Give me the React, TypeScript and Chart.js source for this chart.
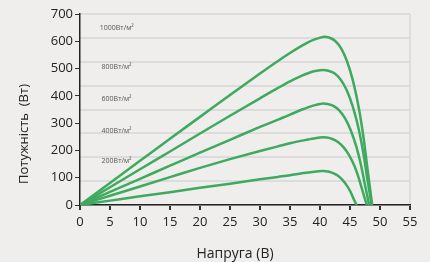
import React, { useEffect, useRef } from "react";
import { Chart, registerables } from "chart.js";

Chart.register(...registerables);

const xTicks = [0, 5, 10, 15, 20, 25, 30, 35, 40, 45, 50, 55];
const yTicks = [0, 100, 200, 300, 400, 500, 600, 700];
const gridDivisions = 8;

const v1000 = [0, 5, 10, 15, 20, 25, 30, 33, 35, 37, 38, 39, 40, 40.7, 41.5, 42.5, 43.5, 44.5, 45.5, 46.5, 47.3, 47.9, 48.4, 48.7];
const p1000 = [0, 81, 162, 243, 323, 403, 482, 528, 557, 584, 596, 606, 613, 617, 614, 602, 575, 527, 455, 352, 240, 135, 50, 0];

const v800 = [0, 5, 10, 15, 20, 25, 30, 33, 35, 37, 38, 39, 40, 40.6, 41.4, 42.4, 43.4, 44.4, 45.4, 46.4, 47.2, 47.8, 48.3, 48.6];
const p800 = [0, 65, 131, 196, 262, 327, 391, 429, 453, 474, 483, 490, 494, 495, 492, 483, 461, 423, 365, 283, 193, 108, 40, 0];

const v600 = [0, 5, 10, 15, 20, 25, 30, 33, 35, 37, 38, 39, 40, 40.5, 41.27, 42.23, 43.2, 44.16, 45.12, 46.08, 46.85, 47.43, 47.91, 48.2];
const p600 = [0, 48, 96, 144, 192, 239, 286, 313, 331, 350, 358, 365, 370, 372, 370, 363, 347, 318, 274, 212, 145, 81, 30, 0];

const v400 = [0, 5, 10, 15, 20, 25, 30, 33, 35, 37, 38, 39, 40, 40.4, 41.14, 42.06, 42.99, 43.91, 44.84, 45.76, 46.5, 47.06, 47.52, 47.8];
const p400 = [0, 34, 68, 102, 136, 168, 198, 215, 226, 236, 240, 244, 247, 248, 247, 242, 231, 212, 183, 142, 96, 54, 20, 0];

const v200 = [0, 5, 10, 15, 20, 25, 30, 33, 35, 37, 38, 39, 40.2, 40.79, 41.53, 42.26, 43.0, 43.74, 44.48, 45.07, 45.51, 45.88, 46.1];
const p200 = [0, 16, 32, 47, 63, 78, 94, 103, 109, 116, 119, 122, 125, 124, 122, 116, 107, 92, 71, 49, 27, 10, 0];

const curveLabels = ["1000Вт/м²", "800Вт/м²", "600Вт/м²", "400Вт/м²", "200Вт/м²"];
const labelV = [3.3, 3.6, 3.6, 3.6, 3.6];
const labelP = [647, 505, 390, 270, 160];

const xTitle = "Напруга (В)";
const yTitle = "Потужність  (Вт)";

const GREEN = "#3daa5e";
const FONT = "'Open Sans', 'Noto Sans', sans-serif";

function pts(v: number[], p: number[]) {
  return v.map((x, i) => ({ x, y: p[i] }));
}

export default function App() {
  const ref = useRef<HTMLCanvasElement>(null);

  useEffect(() => {
    document.body.style.margin = "0";
    const canvas = ref.current!;
    const bgPlugin = {
      id: "bg",
      beforeDraw(chart: any) {
        const { ctx } = chart;
        ctx.save();
        ctx.fillStyle = "#efeeed";
        ctx.fillRect(0, 0, chart.width, chart.height);
        ctx.restore();
      },
    };
    const textPlugin = {
      id: "texts",
      afterDatasetsDraw(chart: any) {
        const { ctx, scales, chartArea } = chart;
        ctx.save();
        ctx.font = `7px ${FONT}`;
        ctx.fillStyle = "#555";
        ctx.textBaseline = "middle";
        ctx.textAlign = "left";
        curveLabels.forEach((t, i) => {
          ctx.fillText(t, scales.x.getPixelForValue(labelV[i]), scales.y.getPixelForValue(labelP[i]));
        });
        ctx.fillStyle = "#222";
        ctx.textAlign = "center";
        ctx.font = `14px ${FONT}`;
        ctx.fillText(xTitle, chartArea.left + 155, chart.height - 8);
        ctx.translate(24, chartArea.top + 120);
        ctx.rotate(-Math.PI / 2);
        ctx.font = `13px ${FONT}`;
        ctx.fillText(yTitle, 0, 0);
        ctx.restore();
      },
    };
    const mk = (v: number[], p: number[]) => ({
      data: pts(v, p),
      yAxisID: "y",
      xAxisID: "x",
      borderColor: GREEN,
      borderWidth: 2.5,
      pointRadius: 0,
      fill: false,
      cubicInterpolationMode: "monotone" as const,
    });
    const chart = new Chart(canvas, {
      type: "line",
      data: {
        datasets: [mk(v1000, p1000), mk(v800, p800), mk(v600, p600), mk(v400, p400), mk(v200, p200)],
      },
      options: {
        animation: false,
        responsive: false,
        layout: { padding: { top: 14, right: 20, left: 0, bottom: 0 } },
        plugins: { legend: { display: false }, tooltip: { enabled: false } },
        scales: {
          x: {
            type: "linear",
            min: 0,
            max: 55,
            afterBuildTicks(scale: any) {
              scale.ticks = xTicks.map((value) => ({ value }));
            },
            afterFit(scale: any) {
              scale.height = 57;
            },
            grid: {
              drawOnChartArea: true,
              color: (c: any) => (c.tick && c.tick.value === 55 ? "#dcdcdc" : "rgba(0,0,0,0)"),
              lineWidth: 2,
              tickColor: "#333",
              tickLength: 5,
            },
            border: { color: "#222", width: 1.5 },
            ticks: { color: "#222", font: { family: FONT, size: 13 }, padding: 4, maxRotation: 0 },
          },
          y: {
            type: "linear",
            position: "left",
            min: 0,
            max: 700,
            afterBuildTicks(scale: any) {
              scale.ticks = yTicks.map((value) => ({ value }));
            },
            afterFit(scale: any) {
              scale.width = 80;
            },
            grid: {
              drawOnChartArea: false,
              tickColor: "#333",
              tickLength: 5,
            },
            border: { color: "#222", width: 1.5 },
            ticks: { color: "#222", font: { family: FONT, size: 13 }, padding: 2 },
          },
          yg: {
            type: "linear",
            position: "right",
            min: 0,
            max: gridDivisions,
            afterBuildTicks(scale: any) {
              const t = [];
              for (let i = 0; i <= gridDivisions; i++) t.push({ value: i });
              scale.ticks = t;
            },
            afterFit(scale: any) {
              scale.width = 0;
            },
            grid: { color: "#dcdcdc", lineWidth: 2, drawTicks: false },
            border: { display: false },
            ticks: { display: false },
          },
        },
      },
      plugins: [bgPlugin, textPlugin],
    });
    return () => chart.destroy();
  }, []);

  return (
    <div style={{ position: "fixed", left: 0, top: 0, width: 430, height: 262 }}>
      <canvas ref={ref} width={430} height={262} />
    </div>
  );
}
